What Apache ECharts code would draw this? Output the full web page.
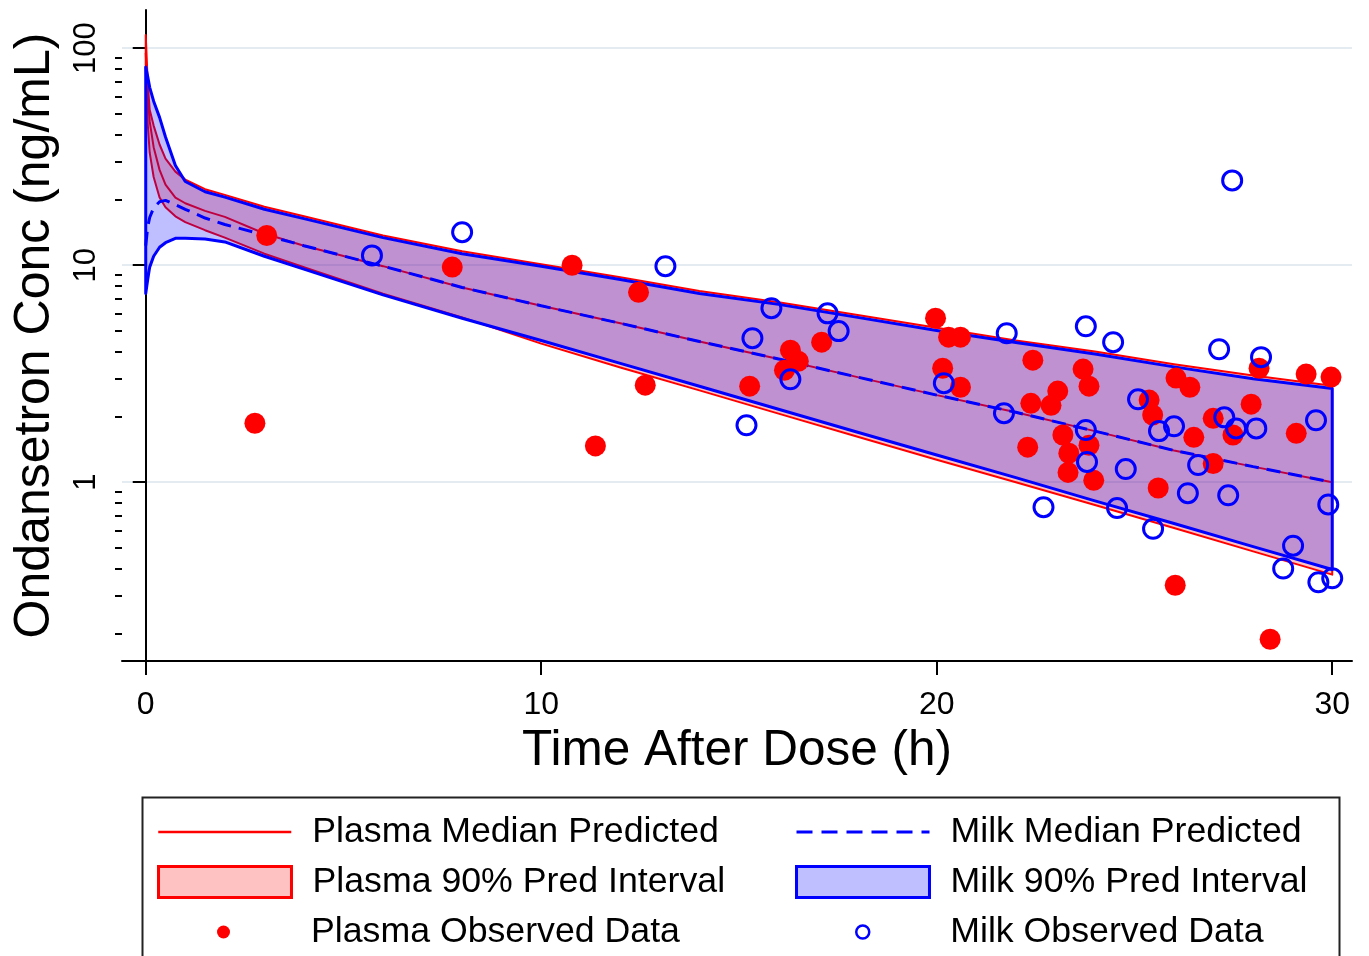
<!DOCTYPE html>
<html>
<head>
<meta charset="utf-8">
<script src="https://cdn.jsdelivr.net/npm/echarts@6/dist/echarts.min.js"></script>
<style>
  html, body { margin: 0; padding: 0; background: #fff; }
  #chart { width: 1369px; height: 956px; }
</style>
</head>
<body>
<div id="chart"></div>
<script>
// ---- Data ----
const predTime     = [0, 0.05, 0.1, 0.2, 0.35, 0.5, 0.75, 1, 1.5, 2, 3, 4, 6, 8, 10, 12, 14, 16, 18, 20, 22, 24, 26, 28, 30];
const plasmaMedian = [95, 60, 46, 35, 27.5, 23.5, 20.5, 19.3, 17.8, 16.7, 14.0, 12.3, 9.9, 7.9, 6.5, 5.4, 4.45, 3.7, 3.05, 2.52, 2.1, 1.72, 1.4, 1.18, 1.0];
const plasmaUpper  = [115, 70, 52, 44, 36, 31, 27, 24.8, 22.4, 21.1, 18.6, 16.8, 13.7, 11.6, 10.1, 8.8, 7.6, 6.75, 5.9, 5.15, 4.5, 4.0, 3.5, 3.1, 2.78];
const plasmaLower  = [80, 45, 33, 25.5, 20.5, 18.5, 16.8, 15.8, 14.5, 13.4, 11.3, 9.8, 7.4, 5.75, 4.35, 3.38, 2.65, 2.07, 1.62, 1.27, 1.0, 0.785, 0.615, 0.48, 0.375];
const milkMedian   = [12.3, 15, 16.6, 18.4, 19.6, 19.9, 19.0, 18.1, 16.5, 15.4, 13.8, 12.3, 9.9, 7.9, 6.5, 5.4, 4.45, 3.7, 3.05, 2.52, 2.1, 1.72, 1.4, 1.18, 1.0];
const milkUpper    = [82, 74, 66, 57, 48, 39, 28.8, 24.3, 21.8, 20.6, 18.1, 16.4, 13.4, 11.3, 9.9, 8.6, 7.4, 6.6, 5.75, 5.0, 4.4, 3.9, 3.4, 3.0, 2.7];
const milkLower    = [7.4, 8.6, 9.8, 11.0, 12.1, 12.7, 13.3, 13.3, 13.2, 12.8, 11.0, 9.6, 7.3, 5.7, 4.5, 3.53, 2.77, 2.17, 1.70, 1.335, 1.05, 0.82, 0.645, 0.505, 0.396];

const plasmaObsTime = [3.06, 2.76, 7.75, 10.78, 11.37, 12.46, 12.63, 15.27, 16.3, 16.15, 16.5, 17.09, 19.97, 20.3, 20.6, 20.15, 20.6, 22.43, 22.38, 22.3, 23.7, 23.85, 23.06, 22.89, 23.19, 23.85, 23.34, 23.32, 23.97, 25.37, 25.46, 25.6, 26.05, 26.4, 26.99, 26.5, 27.49, 27.95, 28.15, 29.34, 29.97, 29.09, 26.99, 26.03, 28.43];
const plasmaObsConc = [13.7, 1.87, 9.8, 10.0, 1.47, 7.5, 2.8, 2.77, 4.06, 3.28, 3.61, 4.42, 5.7, 4.66, 4.66, 3.35, 2.74, 3.65, 2.31, 1.45, 3.32, 2.77, 2.63, 2.26, 1.65, 1.48, 1.36, 1.11, 1.02, 2.39, 2.04, 0.94, 3.02, 2.74, 1.97, 1.61, 1.65, 2.29, 3.35, 3.15, 3.05, 1.68, 1.22, 0.335, 0.189];

const milkObsTime = [5.72, 8.0, 13.14, 15.34, 15.82, 15.19, 16.3, 17.24, 17.52, 21.77, 20.18, 21.7, 22.7, 23.77, 24.46, 27.14, 28.2, 25.09, 23.77, 25.62, 26.0, 27.27, 27.57, 28.08, 29.59, 23.8, 24.78, 26.61, 26.35, 27.37, 24.56, 25.47, 29.9, 29.01, 28.76, 29.65, 30.0, 27.47];
const milkObsConc = [11.1, 14.2, 9.9, 4.61, 6.34, 1.83, 2.98, 6.0, 4.97, 4.86, 2.86, 2.08, 0.767, 5.23, 4.42, 4.1, 3.77, 2.41, 1.74, 1.72, 1.81, 1.99, 1.77, 1.77, 1.93, 1.24, 1.15, 1.2, 0.89, 0.87, 0.76, 0.61, 0.79, 0.51, 0.40, 0.346, 0.361, 24.6];

const xTickValues = [0, 10, 20, 30];
const yTickValues = [1, 10, 100];
const yMinorTicks = [0.2, 0.3, 0.4, 0.5, 0.6, 0.7, 0.8, 0.9, 2, 3, 4, 5, 6, 7, 8, 9, 20, 30, 40, 50, 60, 70, 80, 90];

const xTitle = 'Time After Dose (h)';
const yTitle = 'Ondansetron Conc (ng/mL)';
const names = {
  pMed: 'Plasma Median Predicted', pPI: 'Plasma 90% Pred Interval', pObs: 'Plasma Observed Data',
  mMed: 'Milk Median Predicted',   mPI: 'Milk 90% Pred Interval',   mObs: 'Milk Observed Data'
};

// ---- Build ----
const FONT = "'Liberation Sans', Arial, sans-serif";
const zip = (a, b) => a.map((v, i) => [v, b[i]]);
const bandData = (lo, hi) => predTime.map((t, i) => [t, lo[i], hi[i]]);

function bandRenderer(lo, hi, style) {
  return function (params, api) {
    if (params.dataIndex !== 0) return null;
    const pts = [];
    for (let i = 0; i < predTime.length; i++) pts.push(api.coord([predTime[i], hi[i]]));
    for (let i = predTime.length - 1; i >= 0; i--) pts.push(api.coord([predTime[i], lo[i]]));
    return { type: 'polygon', shape: { points: pts }, style: style };
  };
}

const chart = echarts.init(document.getElementById('chart'), null, { renderer: 'canvas' });

const legendRows = [829, 879, 929];
function mkLegend(item, left, rowY, itemW, itemH, padLeft) {
  return {
    data: [item],
    left: left, top: rowY - 15,
    orient: 'vertical', padding: 0,
    itemWidth: itemW, itemHeight: itemH,
    selectedMode: false,
    formatter: '{t|{name}}',
    textStyle: { rich: { t: { fontSize: 35.7, fontFamily: FONT, color: '#000', padding: [0, 0, 0, padLeft], lineHeight: 40 } } }
  };
}

const option = {
  animation: false,
  backgroundColor: '#fff',
  textStyle: { fontFamily: FONT },
  grid: { left: 122, right: 17, top: 10, bottom: 295, containLabel: false },
  xAxis: {
    type: 'value', min: -0.6, max: 30.5,
    name: xTitle, nameLocation: 'middle', nameGap: 60,
    nameTextStyle: { fontSize: 49.5, color: '#000', fontFamily: FONT },
    axisLine: { show: true, lineStyle: { color: '#000', width: 2 } },
    axisTick: { show: true, customValues: xTickValues, length: 14, lineStyle: { color: '#000', width: 2 } },
    axisLabel: { show: true, customValues: xTickValues, fontSize: 32, color: '#000', margin: 28, fontFamily: FONT },
    splitLine: { show: false }
  },
  yAxis: [{
    type: 'log', min: 0.15, max: 150, position: 'left',
    name: yTitle, nameLocation: 'middle', nameGap: 62, nameRotate: 90,
    nameTextStyle: { fontSize: 50, color: '#000', fontFamily: FONT },
    axisLine: { show: true, lineStyle: { color: '#000', width: 2 } },
    axisTick: { show: true, customValues: yTickValues, length: 13, lineStyle: { color: '#000', width: 2 } },
    axisLabel: { show: true, customValues: yTickValues, rotate: 90, fontSize: 31, color: '#000', margin: 20, fontFamily: FONT },
    splitLine: { show: true, lineStyle: { color: '#E4ECF1', width: 2 } }
  }, {
    type: 'log', min: 0.15, max: 150, position: 'left', offset: 0,
    axisLine: { show: false },
    axisTick: { show: true, customValues: yMinorTicks, length: 7, lineStyle: { color: '#000', width: 2 } },
    axisLabel: { show: false },
    splitLine: { show: false }
  }],
  legend: [
    mkLegend({ name: names.pMed, itemStyle: { opacity: 0 }, lineStyle: { color: '#ff0000', width: 2.5 } }, 157, legendRows[0], 133, 20, 16),
    mkLegend({ name: names.pPI, icon: 'rect', itemStyle: { color: 'rgba(255,0,0,0.24)', borderColor: '#ff0000', borderWidth: 3 } }, 157, legendRows[1], 133, 31, 16),
    mkLegend({ name: names.pObs, icon: 'circle', itemStyle: { color: '#ff0000', borderWidth: 0 } }, 217, legendRows[2], 13, 13, 76),
    mkLegend({ name: names.mMed, itemStyle: { opacity: 0 }, lineStyle: { color: '#0000ff', width: 3, type: [16, 9] } }, 795, legendRows[0], 133, 20, 16),
    mkLegend({ name: names.mPI, icon: 'rect', itemStyle: { color: 'rgba(0,0,255,0.25)', borderColor: '#0000ff', borderWidth: 3 } }, 795, legendRows[1], 133, 31, 16),
    mkLegend({ name: names.mObs, icon: 'circle', itemStyle: { color: '#fff', borderColor: '#0000ff', borderWidth: 2.5 } }, 855, legendRows[2], 13, 13, 76)
  ],
  graphic: [{
    type: 'rect', left: 140, top: 795, silent: true,
    shape: { width: 1197, height: 200 },
    style: { fill: 'none', stroke: '#222', lineWidth: 2 }
  }],
  series: [
    {
      name: names.pPI, type: 'custom', z: 1, yAxisIndex: 0,
      data: bandData(plasmaLower, plasmaUpper), encode: { x: 0, y: [1, 2] },
      itemStyle: { color: 'rgba(255,0,0,0.24)' },
      renderItem: bandRenderer(plasmaLower, plasmaUpper, { fill: 'rgba(255,0,0,0.24)', stroke: '#ff0000', lineWidth: 2, lineJoin: 'round' })
    },
    {
      name: names.pMed, type: 'line', z: 2, yAxisIndex: 0,
      data: zip(predTime, plasmaMedian), symbol: 'none', smooth: false,
      lineStyle: { color: '#ff0000', width: 2 }, itemStyle: { color: '#ff0000' }
    },
    {
      name: names.mPI, type: 'custom', z: 3, yAxisIndex: 0,
      data: bandData(milkLower, milkUpper), encode: { x: 0, y: [1, 2] },
      itemStyle: { color: 'rgba(0,0,255,0.25)' },
      renderItem: bandRenderer(milkLower, milkUpper, { fill: 'rgba(0,0,255,0.25)', stroke: '#0000ff', lineWidth: 3, lineJoin: 'round' })
    },
    {
      name: names.mMed, type: 'line', z: 4, yAxisIndex: 0,
      data: zip(predTime, milkMedian), symbol: 'none', smooth: false,
      lineStyle: { color: '#0000ff', width: 3, type: [14, 8] }, itemStyle: { color: '#0000ff' }
    },
    {
      name: names.pObs, type: 'scatter', z: 5, yAxisIndex: 0,
      data: zip(plasmaObsTime, plasmaObsConc), symbol: 'circle', symbolSize: 21,
      itemStyle: { color: '#ff0000', opacity: 1 }
    },
    {
      name: names.mObs, type: 'scatter', z: 6, yAxisIndex: 0,
      data: zip(milkObsTime, milkObsConc), symbol: 'circle', symbolSize: 19,
      itemStyle: { color: 'rgba(0,0,0,0)', borderColor: '#0000ff', borderWidth: 3, opacity: 1 }
    }
  ]
};
chart.setOption(option);
</script>
</body>
</html>
